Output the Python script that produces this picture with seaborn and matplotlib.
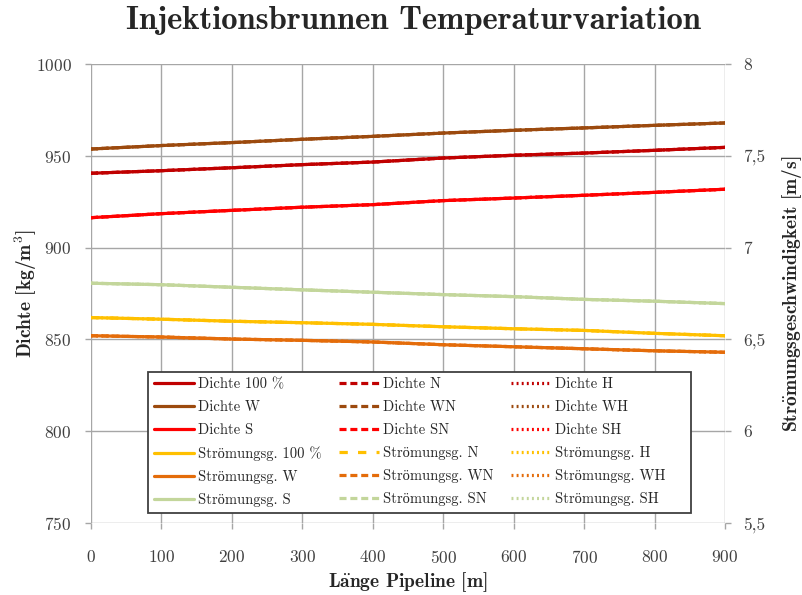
import matplotlib
matplotlib.use("Agg")
import matplotlib.pyplot as plt
import seaborn as sns
import pandas as pd
from matplotlib.ticker import FixedLocator, FuncFormatter

# ---------------- data ----------------
laenge = [0, 100, 200, 300, 400, 500, 600, 700, 800, 900]

dichte_100 = [940.5, 941.9, 943.5, 945.2, 946.6, 948.8, 950.3, 951.5, 953.0, 954.6]
dichte_W   = [953.7, 955.6, 957.2, 959.0, 960.6, 962.4, 963.9, 965.2, 966.6, 967.9]
dichte_S   = [916.3, 918.5, 920.3, 922.0, 923.4, 925.6, 927.0, 928.5, 930.1, 931.8]
dichte_N, dichte_WN, dichte_SN = dichte_100, dichte_W, dichte_S
dichte_H, dichte_WH, dichte_SH = dichte_100, dichte_W, dichte_S

strom_100 = [6.619, 6.610, 6.599, 6.591, 6.582, 6.569, 6.558, 6.549, 6.533, 6.520]
strom_W   = [6.520, 6.513, 6.502, 6.495, 6.486, 6.471, 6.460, 6.449, 6.438, 6.430]
strom_S   = [6.806, 6.798, 6.784, 6.770, 6.757, 6.744, 6.733, 6.718, 6.708, 6.695]
strom_N, strom_WN, strom_SN = strom_100, strom_W, strom_S
strom_H, strom_WH, strom_SH = strom_100, strom_W, strom_S

left_ticks = [750, 800, 850, 900, 950, 1000]
right_ticks = [5.5, 6.0, 6.5, 7.0, 7.5, 8.0]
x_ticks = [0, 100, 200, 300, 400, 500, 600, 700, 800, 900]

OEB = r"$\ddot{\mathbf{o}}$"
AEB = r"$\ddot{\mathbf{a}}$"
ST = "Strömungsg."

# ---------------- style ----------------
sns.set_theme(style="white")
plt.rcParams["font.family"] = ["cmr10", "Liberation Serif"]
plt.rcParams["mathtext.fontset"] = "cm"
plt.rcParams["axes.formatter.use_mathtext"] = True

fig = plt.figure(figsize=(8.03, 5.95), dpi=100)
ax = fig.add_axes([0.1133, 0.121, 0.7896, 0.7714])
ax2 = ax.twinx()

c_d100, c_dW, c_dS = "#C00000", "#9C4A0E", "#FF0000"
c_s100, c_sW, c_sS = "#FFC000", "#E46C0A", "#C3D69B"
lw = 2.3

DASH = (0, (2.2, 1.2))
DOT = (0, (0.6, 1.0))
dens = [
    ("Dichte 100 %", dichte_100, c_d100, "-"),
    ("Dichte W", dichte_W, c_dW, "-"),
    ("Dichte S", dichte_S, c_dS, "-"),
]
dens_n = [
    ("Dichte N", dichte_N, c_d100, DASH),
    ("Dichte WN", dichte_WN, c_dW, DASH),
    ("Dichte SN", dichte_SN, c_dS, DASH),
]
dens_h = [
    ("Dichte H", dichte_H, c_d100, DOT),
    ("Dichte WH", dichte_WH, c_dW, DOT),
    ("Dichte SH", dichte_SH, c_dS, DOT),
]
strom = [
    (ST + " 100 %", strom_100, c_s100, "-"),
    (ST + " W", strom_W, c_sW, "-"),
    (ST + " S", strom_S, c_sS, "-"),
]
strom_n = [
    (ST + " N", strom_N, c_s100, (0, (2.6, 3.2))),
    (ST + " WN", strom_WN, c_sW, DASH),
    (ST + " SN", strom_SN, c_sS, DASH),
]
strom_h = [
    (ST + " H", strom_H, c_s100, DOT),
    (ST + " WH", strom_WH, c_sW, DOT),
    (ST + " SH", strom_SH, c_sS, DOT),
]

handles = {}
def draw(axis, items):
    for label, vals, col, ls in items:
        df = pd.DataFrame({"x": laenge, "y": vals})
        sns.lineplot(data=df, x="x", y="y", ax=axis, color=col, linewidth=lw,
                     linestyle=ls, label=label, legend=False)
        handles[label] = axis.get_lines()[-1]

draw(ax, dens_h); draw(ax, dens_n); draw(ax, dens)
draw(ax2, strom_h); draw(ax2, strom); draw(ax2, strom_n)

# axes setup
ax.set_xlim(0, 900)
ax.set_ylim(750, 1000)
ax2.set_ylim(5.5, 8.0)
ax.xaxis.set_major_locator(FixedLocator(x_ticks))
ax.yaxis.set_major_locator(FixedLocator(left_ticks))
ax2.yaxis.set_major_locator(FixedLocator(right_ticks))
ax2.yaxis.set_major_formatter(FuncFormatter(lambda v, p: (f"{v:g}").replace(".", ",")))

grid_c = "#A6A6A6"
ax.grid(True, color=grid_c, linewidth=1.0)
ax2.grid(False)
for a in (ax, ax2):
    for s in a.spines.values():
        s.set_visible(False)
ax.tick_params(axis="x", which="major", direction="out", length=4.5, width=1.0,
               color=grid_c, labelsize=12.5, pad=14, bottom=True)
ax.tick_params(axis="y", which="major", direction="out", length=4.5, width=1.0,
               color=grid_c, labelsize=12.5, pad=9.4, left=True)
ax2.tick_params(axis="y", direction="out", length=4.5, width=1.0, color=grid_c,
                labelsize=12.5, pad=8.7, right=True)
for lab in ax.get_xticklabels() + ax.get_yticklabels() + ax2.get_yticklabels():
    lab.set_color("#404040")

bold = ["cmb10", "Liberation Serif"]
ax.set_xlabel("L" + AEB + "nge Pipeline [m]", fontsize=14, fontweight="bold", family=bold, labelpad=3)
ax.set_ylabel(r"Dichte [kg/m$^{\mathbf{3}}$]", fontsize=14, fontweight="bold", family=bold, labelpad=-2)
ax2.set_ylabel("Str" + OEB + "mungsgeschwindigkeit [m/s]", fontsize=14, fontweight="bold",
               family=bold, labelpad=10)
fig.suptitle("Injektionsbrunnen Temperaturvariation", fontsize=23.5, fontweight="bold",
             family=bold, x=0.515, y=0.99)

order = [d[0] for d in dens] + [s[0] for s in strom] + \
        [d[0] for d in dens_n] + [s[0] for s in strom_n] + \
        [d[0] for d in dens_h] + [s[0] for s in strom_h]
leg = ax2.legend([handles[k] for k in order], order, ncol=3, loc="lower left",
                 bbox_to_anchor=(0.0899, 0.0218), fontsize=10.5, frameon=True, fancybox=False,
                 handlelength=2.74, handletextpad=0.27, columnspacing=1.2, labelspacing=0.63,
                 borderpad=0.4, borderaxespad=0)
leg.get_frame().set_edgecolor("#404040")
leg.get_frame().set_linewidth(1.3)
leg.get_frame().set_facecolor("white")
leg.get_frame().set_alpha(1)

# widen legend frame on the right to match the reference box
fig.canvas.draw()
leg_box = leg.get_window_extent()
extra_px = 20
frame = leg.get_frame()
orig_draw = frame.draw
def wide_draw(renderer, _f=frame):
    _f.set_width(_f.get_width() + extra_px)
    orig_draw(renderer)
    _f.set_width(_f.get_width() - extra_px)
frame.draw = wide_draw

fig.savefig("out.png", dpi=100)
